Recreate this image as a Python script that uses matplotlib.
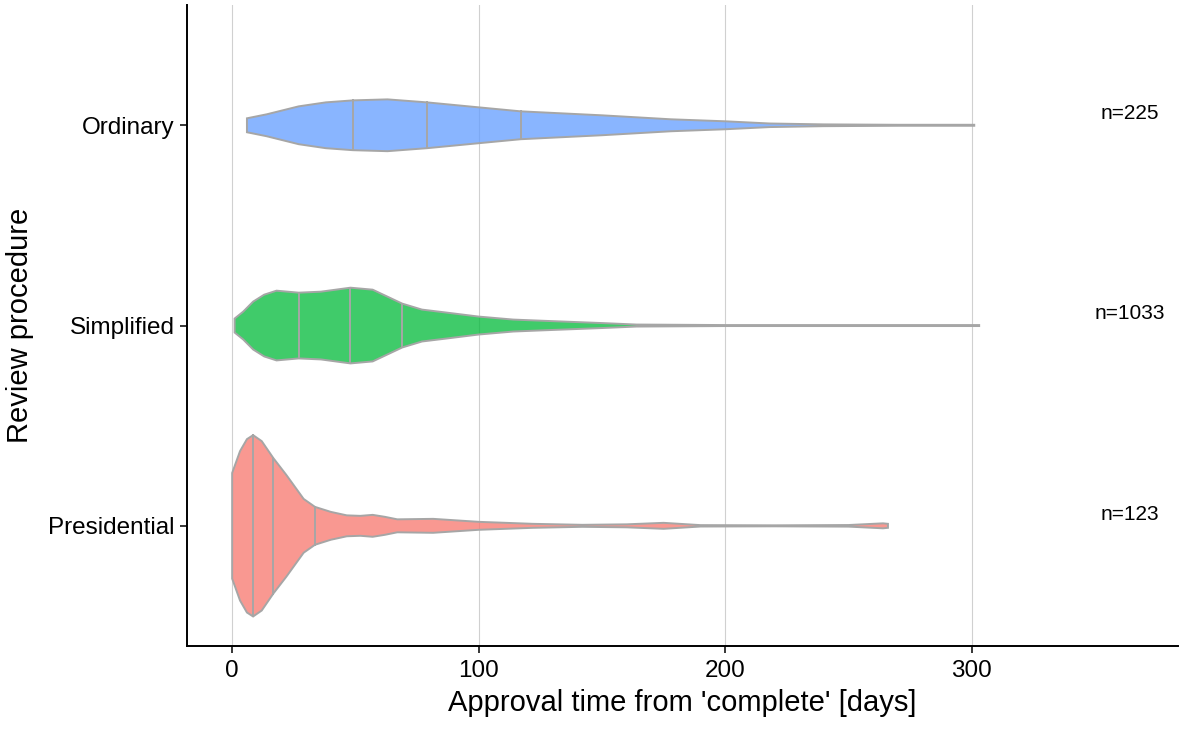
import numpy as np
import matplotlib.pyplot as plt

plt.rcParams['font.family'] = ['Liberation Sans', 'DejaVu Sans']

# categories (bottom to top) and counts
groups = ['Presidential', 'Simplified', 'Ordinary']
counts = [123, 1033, 225]
colors = ['#F8766D', '#00BA38', '#619CFF']

# violin profiles: approval time [days] and half-width (in pixels of the reference, 201 px per category)
pres_x = [0, 3.2, 6, 8.5, 12, 16.7, 22, 29, 33.6, 40, 46.5, 52, 57, 62, 67, 81.5, 100, 122, 142, 160, 175, 190, 220, 250, 264, 266]
pres_w = [53, 75, 87, 91, 85, 68, 51, 27, 19, 14, 10.5, 10, 11, 9, 6.5, 7, 4, 2, 1, 1.5, 3, 0.7, 0.5, 0.8, 2.5, 2]
simp_x = [1, 4.5, 8.5, 13, 18, 27, 36, 48, 57, 63, 69, 77, 87, 100, 114, 124, 150, 164, 200, 250, 303]
simp_w = [7, 14, 24, 31, 35, 33, 34, 38, 36, 29, 22, 16, 13, 9, 6, 5, 2.5, 1, 0.5, 0.5, 0.5]
ordi_x = [6, 14, 27, 38, 49, 63, 79, 100, 117, 150, 178, 200, 218, 240, 270, 301]
ordi_w = [7, 11, 19, 23, 25, 26, 23, 18, 14, 10, 6, 4, 1.8, 0.9, 0.5, 0.5]

# quartiles drawn inside each violin
pres_q = [8.5, 16.7, 33.6]
simp_q = [27, 48, 69]
ordi_q = [49, 79, 117]

profiles = [(pres_x, pres_w, pres_q), (simp_x, simp_w, simp_q), (ordi_x, ordi_w, ordi_q)]

fig = plt.figure(figsize=(11.8, 7.31), dpi=100)
ax = fig.add_axes([0.1585, 0.1163, 0.8395, 0.8767])

px = 201.0  # pixels per category unit
edge = '#A6A6A6'
for i, (xs, ws, qs) in enumerate(profiles):
    pos = i + 1
    xs = np.array(xs, dtype=float)
    hw = np.array(ws, dtype=float) / px
    poly_x = np.concatenate([xs, xs[::-1]])
    poly_y = np.concatenate([pos + hw, (pos - hw)[::-1]])
    ax.fill(poly_x, poly_y, facecolor=colors[i], alpha=0.75, edgecolor='none', zorder=2)
    ax.fill(poly_x, poly_y, facecolor='none', edgecolor=edge, linewidth=1.4, zorder=3)
    for q in qs:
        h = np.interp(q, xs, hw)
        ax.plot([q, q], [pos - h, pos + h], color=edge, linewidth=1.4, zorder=3)
    ax.text(364, pos + 0.058, 'n=%d' % counts[i], ha='center', va='center', fontsize=15)

ax.set_xlim(-18.3, 383.5)
ax.set_ylim(0.4, 3.6)
ax.set_xticks([0, 100, 200, 300])
ax.set_yticks([1, 2, 3])
ax.set_yticklabels(groups)
ax.grid(axis='x', color='#D0D0D0', linewidth=0.8, zorder=0)
ax.set_axisbelow(True)
ax.spines['top'].set_visible(False)
ax.spines['right'].set_visible(False)
ax.spines['left'].set_linewidth(1.4)
ax.spines['bottom'].set_linewidth(1.4)
ax.tick_params(axis='both', labelsize=17.5, color='black', width=1.1, length=5, labelcolor='black')
ax.tick_params(axis='x', pad=5)
ax.tick_params(axis='y', pad=4)
ax.set_xlabel("Approval time from 'complete' [days]", fontsize=21, labelpad=5)
ax.set_ylabel('Review procedure', fontsize=21, labelpad=10)

fig.savefig('out.png', dpi=100)
